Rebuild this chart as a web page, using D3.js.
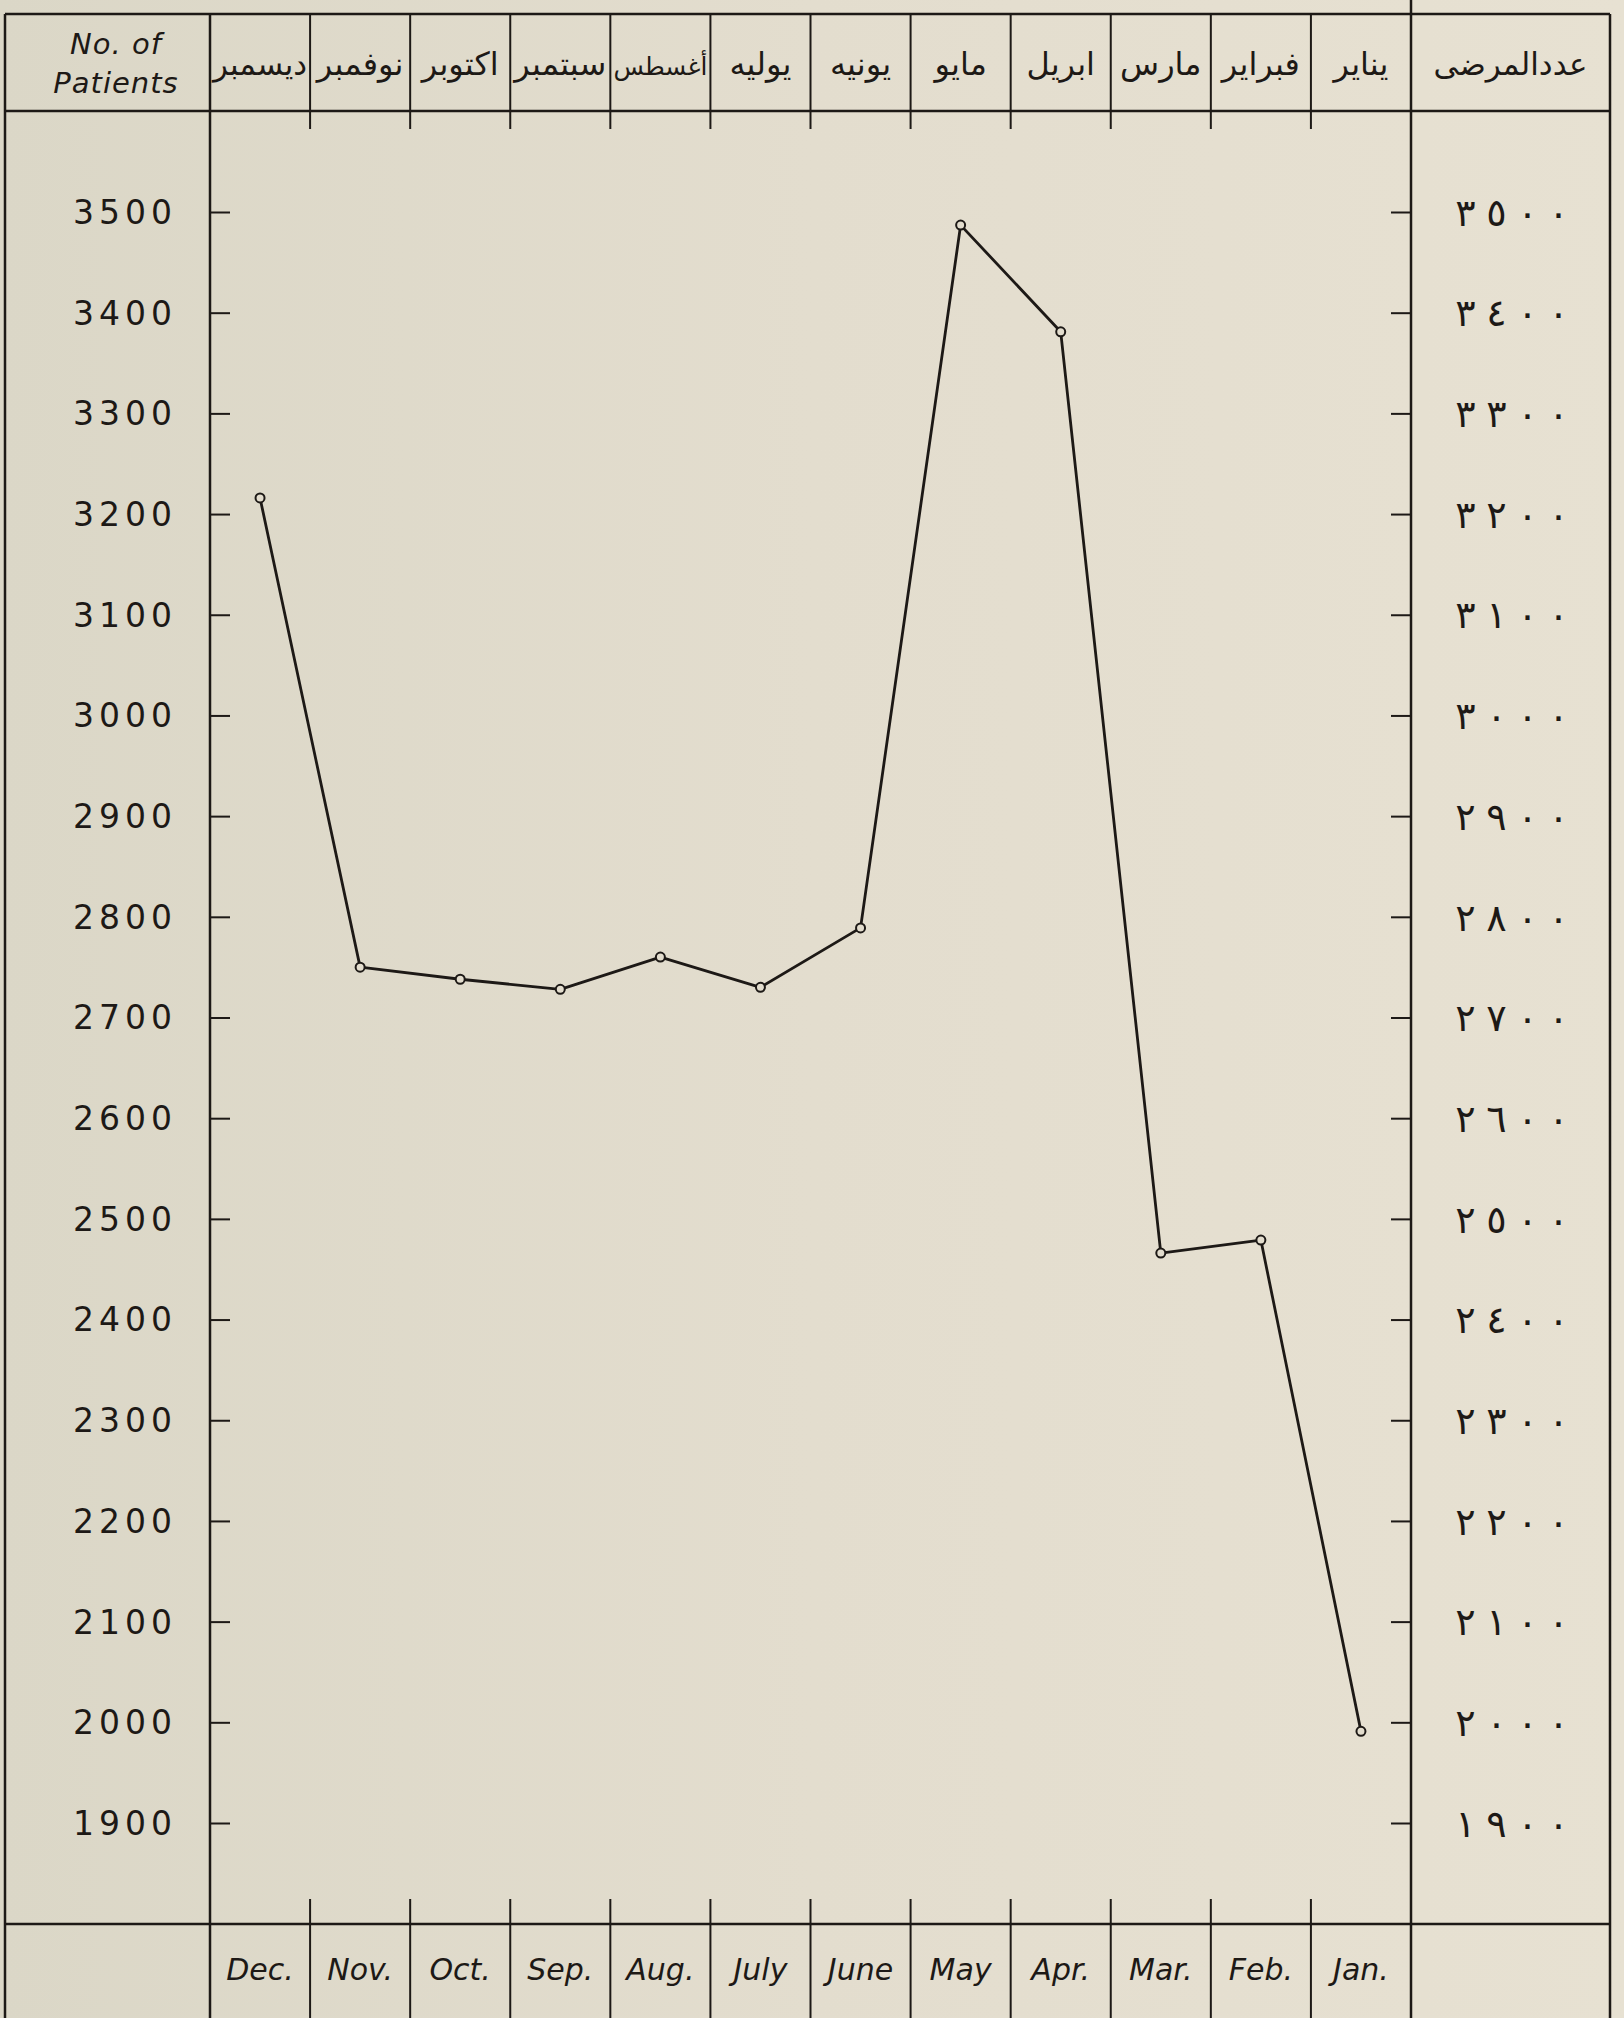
<!DOCTYPE html>
<html lang="ar">
<head>
    <meta charset="UTF-8">
    <title>No. of Patients</title>
    <script src="https://d3js.org/d3.v7.min.js"></script>
    <style>
        body {
            margin: 0;
            background: #e2dccd;
        }
        svg {
            display: block;
        }
        text {
            fill: #1d1916;
            font-family: "DejaVu Sans", sans-serif;
        }
    </style>
</head>
<body>
    <div id="chart"></div>

    <script>
        // months run right-to-left, so Dec is the first column
        const monthsEn = ["Dec.", "Nov.", "Oct.", "Sep.", "Aug.", "July", "June", "May", "Apr.", "Mar.", "Feb.", "Jan."];
        const monthsAr = ["ديسمبر", "نوفمبر", "اكتوبر", "سبتمبر", "أغسطس", "يوليه", "يونيه", "مايو", "ابريل", "مارس", "فبراير", "يناير"];
        const patients = [3216, 2750, 2738, 2728, 2760, 2730, 2789, 3487, 3381, 2466, 2479, 1991];

        const yTicks = [1900, 2000, 2100, 2200, 2300, 2400, 2500, 2600, 2700, 2800, 2900, 3000, 3100, 3200, 3300, 3400, 3500];
        const yTicksAr = ["١٩٠٠", "٢٠٠٠", "٢١٠٠", "٢٢٠٠", "٢٣٠٠", "٢٤٠٠", "٢٥٠٠", "٢٦٠٠", "٢٧٠٠", "٢٨٠٠", "٢٩٠٠", "٣٠٠٠", "٣١٠٠", "٣٢٠٠", "٣٣٠٠", "٣٤٠٠", "٣٥٠٠"];

        const width = 1624;
        const height = 2018;
        const ink = "#1d1916";
        const paper = "#e3ddce";

        const outerL = 5, outerR = 1610;
        const plotL = 210, plotR = 1411;
        const frameTop = 14, headBottom = 111, footTop = 1924;

        const svg = d3.select("#chart").append("svg")
            .attr("width", width)
            .attr("height", height);

        const grad = svg.append("defs").append("linearGradient")
            .attr("id", "paper")
            .attr("x1", 0).attr("x2", 1).attr("y1", 0).attr("y2", 0);
        grad.append("stop").attr("offset", 0).attr("stop-color", "#dbd7c7");
        grad.append("stop").attr("offset", 0.5).attr("stop-color", "#e3ddce");
        grad.append("stop").attr("offset", 1).attr("stop-color", "#e7e1d2");

        svg.append("rect")
            .attr("width", width)
            .attr("height", height)
            .attr("fill", "url(#paper)");

        const x = d3.scaleBand().domain(monthsEn).range([plotL, plotR]);
        const y = d3.scaleLinear().domain([1900, 3500]).range([1823, 212]);
        const cx = (d, i) => x(monthsEn[i]) + x.bandwidth() / 2;

        // frame lines
        const frame = svg.append("g")
            .attr("stroke", ink)
            .attr("stroke-width", 2.5)
            .attr("fill", "none");

        [frameTop, headBottom, footTop].forEach(yy => {
            frame.append("line")
                .attr("x1", outerL).attr("x2", outerR)
                .attr("y1", yy).attr("y2", yy);
        });
        frame.append("line").attr("x1", outerL).attr("x2", outerL).attr("y1", frameTop).attr("y2", height);
        frame.append("line").attr("x1", outerR).attr("x2", outerR).attr("y1", frameTop).attr("y2", height);
        frame.append("line").attr("x1", plotL).attr("x2", plotL).attr("y1", frameTop).attr("y2", height);
        frame.append("line").attr("x1", plotR).attr("x2", plotR).attr("y1", 0).attr("y2", height);

        // column dividers in the header and footer, with short ticks into the plot
        const inner = monthsEn.slice(1);
        frame.selectAll(".colTop")
            .data(inner)
            .enter().append("line")
            .attr("stroke-width", 2)
            .attr("x1", d => x(d)).attr("x2", d => x(d))
            .attr("y1", frameTop).attr("y2", headBottom + 18);
        frame.selectAll(".colBottom")
            .data(inner)
            .enter().append("line")
            .attr("stroke-width", 2)
            .attr("x1", d => x(d)).attr("x2", d => x(d))
            .attr("y1", footTop - 25).attr("y2", height);

        // y axes: ticks only, pointing into the plot
        const leftAxis = svg.append("g")
            .attr("transform", `translate(${plotL},0)`)
            .call(d3.axisRight(y).tickValues(yTicks).tickSize(20).tickSizeOuter(0).tickFormat(""));
        const rightAxis = svg.append("g")
            .attr("transform", `translate(${plotR},0)`)
            .call(d3.axisLeft(y).tickValues(yTicks).tickSize(20).tickSizeOuter(0).tickFormat(""));
        [leftAxis, rightAxis].forEach(g => {
            g.select(".domain").remove();
            g.selectAll(".tick line").attr("stroke", ink).attr("stroke-width", 2);
        });

        svg.append("g")
            .selectAll("text")
            .data(yTicks)
            .enter().append("text")
            .attr("x", 125)
            .attr("y", d => y(d))
            .attr("dy", "0.36em")
            .attr("text-anchor", "middle")
            .attr("font-size", 33)
            .attr("letter-spacing", 5)
            .text(d => d);

        // arabic-indic labels, one glyph at a time so they can be spaced out
        const pitch = 31;
        const arLabels = svg.append("g")
            .selectAll("g")
            .data(yTicksAr)
            .enter().append("g")
            .attr("transform", (d, i) => `translate(1512,${y(yTicks[i])})`);
        arLabels.selectAll("text")
            .data(d => Array.from(d))
            .enter().append("text")
            .attr("x", (c, j) => (j - 1.5) * pitch)
            .attr("dy", "0.36em")
            .attr("text-anchor", "middle")
            .attr("font-size", 38)
            .text(c => c);

        // header
        const head = svg.append("g");
        head.append("text")
            .attr("x", 116).attr("y", 54)
            .attr("text-anchor", "middle")
            .attr("font-size", 29)
            .attr("font-style", "italic")
            .attr("letter-spacing", 1)
            .text("No. of");
        head.append("text")
            .attr("x", 116).attr("y", 93)
            .attr("text-anchor", "middle")
            .attr("font-size", 29)
            .attr("font-style", "italic")
            .attr("letter-spacing", 1)
            .text("Patients");

        head.selectAll(".ar")
            .data(monthsAr)
            .enter().append("text")
            .attr("x", cx)
            .attr("y", 75)
            .attr("text-anchor", "middle")
            .attr("font-size", 32)
            .text(d => d)
            .each(function () {
                const w = this.getComputedTextLength();
                if (w > 94) d3.select(this).attr("font-size", 32 * 94 / w);
            });

        head.append("text")
            .attr("x", (plotR + outerR) / 2).attr("y", 75)
            .attr("text-anchor", "middle")
            .attr("font-size", 31)
            .text("عددالمرضى");

        // footer month labels
        svg.append("g")
            .selectAll("text")
            .data(monthsEn)
            .enter().append("text")
            .attr("x", cx)
            .attr("y", 1980)
            .attr("text-anchor", "middle")
            .attr("font-size", 30)
            .attr("font-style", "italic")
            .text(d => d);

        // the series
        const line = d3.line()
            .x(cx)
            .y(d => y(d));

        svg.append("path")
            .datum(patients)
            .attr("d", line)
            .attr("fill", "none")
            .attr("stroke", ink)
            .attr("stroke-width", 2.8)
            .attr("stroke-linejoin", "round");

        svg.append("g")
            .selectAll("circle")
            .data(patients)
            .enter().append("circle")
            .attr("cx", cx)
            .attr("cy", d => y(d))
            .attr("r", 4.5)
            .attr("fill", paper)
            .attr("stroke", ink)
            .attr("stroke-width", 2);
    </script>
</body>
</html>
